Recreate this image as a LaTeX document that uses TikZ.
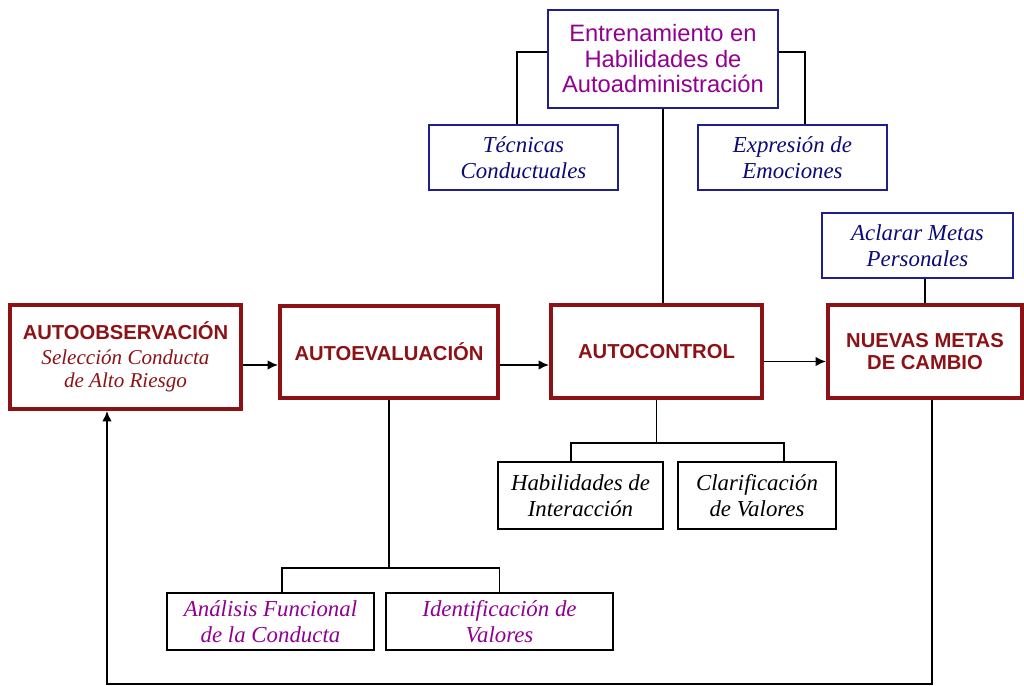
\documentclass[tikz,border=0pt]{standalone}
\usepackage{fontspec}
\setmainfont{Liberation Serif}
\setsansfont{Liberation Sans}
\usetikzlibrary{arrows.meta}
\definecolor{stagered}{RGB}{140,18,22}
\definecolor{boxnavy}{RGB}{30,30,140}
\definecolor{textnavy}{RGB}{10,10,120}
\definecolor{skillpurple}{RGB}{145,0,145}
\begin{document}
\begin{tikzpicture}[
    every node/.style={align=center, inner sep=0pt},
    stage box/.style={draw=stagered, line width=2.2pt, text=stagered, font=\sffamily\bfseries\fontsize{11.5}{13}\selectfont},
    skill box/.style={draw=boxnavy, line width=0.9pt, text=textnavy, font=\itshape\fontsize{13}{14.5}\selectfont},
    plain box/.style={draw=black, line width=0.9pt, font=\itshape\fontsize{13}{14.5}\selectfont},
    link line/.style={draw, line width=1pt},
    flow arrow/.style={draw, line width=1pt, -{Latex[length=6pt,width=5.5pt]}},
    ]
\useasboundingbox (0,0) rectangle (20.48,-13.72);
% main stages
\node[stage box, minimum width=4.62cm, minimum height=2.08cm] (obs) at (2.51,-7.14)
    {AUTOOBSERVACIÓN\\[1pt]\rmfamily\mdseries\itshape\fontsize{12}{14}\selectfont Selección Conducta\\\rmfamily\mdseries\itshape\fontsize{12}{14}\selectfont de Alto Riesgo};
\node[stage box, minimum width=4.36cm, minimum height=1.84cm] (eval) at (7.78,-7.04) {AUTOEVALUACIÓN};
\node[stage box, minimum width=4.22cm, minimum height=1.86cm] (ctrl) at (13.13,-7.03) {AUTOCONTROL};
\node[stage box, minimum width=3.88cm, minimum height=1.86cm] (nue) at (18.50,-7.03) {NUEVAS METAS\\DE CAMBIO};
% skills around autocontrol
\node[skill box, minimum width=4.60cm, minimum height=1.96cm, text=skillpurple,
    font=\sffamily\fontsize{13.5}{14.5}\selectfont] (ent) at (13.26,-1.18)
    {Entrenamiento en\\Habilidades de\\Autoadministración};
\node[skill box, minimum width=3.78cm, minimum height=1.30cm] (tec) at (10.47,-3.15) {Técnicas\\Conductuales};
\node[skill box, minimum width=3.78cm, minimum height=1.30cm] (exp) at (15.85,-3.15) {Expresión de\\Emociones};
\node[skill box, minimum width=3.82cm, minimum height=1.30cm] (acl) at (18.35,-4.91) {Aclarar Metas\\Personales};
\node[plain box, minimum width=3.30cm, minimum height=1.34cm] (hab) at (11.61,-9.91) {Habilidades de\\Interacción};
\node[plain box, minimum width=3.16cm, minimum height=1.34cm] (cla) at (15.14,-9.91) {Clarificación\\de Valores};
\node[plain box, minimum width=4.14cm, minimum height=1.14cm, text=skillpurple] (ana) at (5.41,-12.43) {Análisis Funcional\\de la Conducta};
\node[plain box, minimum width=4.54cm, minimum height=1.14cm, text=skillpurple] (ide) at (9.99,-12.43) {Identificación de\\Valores};
% helper coordinates
\coordinate (row) at (0,-7.30);
\coordinate (ctrlbus) at (0,-8.86);
\coordinate (evalbus) at (0,-11.36);
\coordinate (loop) at (0,-13.68);
% stage flow
\draw[flow arrow] (obs.east |- row) -- (eval.west |- row);
\draw[flow arrow] (eval.east |- row) -- (ctrl.west |- row);
\draw[flow arrow] ([yshift=-0.2cm]ctrl.east) -- ([yshift=-0.2cm]nue.west);
\draw[flow arrow] ([xshift=1.4mm]nue.south) -- ([xshift=1.4mm]nue.south |- loop) -| ([xshift=-3.7mm]obs.south);
% branches
\draw[link line] ([yshift=1.4mm]ent.west) -| ([xshift=-1.3mm]tec.north);
\draw[link line] ([yshift=1.4mm]ent.east) -| ([xshift=2.5mm]exp.north);
\draw[link line] (ent.south) -- (ent.south |- ctrl.north);
\draw[link line] (nue.north |- acl.south) -- (nue.north);
\draw[link line] (ctrl.south) -- (ctrl.south |- ctrlbus);
\draw[link line] ([xshift=-1.9mm]hab.north) |- (ctrlbus -| ctrl.south) -| ([xshift=5.4mm]cla.north);
\draw[link line] (eval.south) -- (eval.south |- evalbus);
\draw[link line] ([xshift=2.3mm]ana.north) |- (evalbus -| eval.south) -| (ide.north);
\end{tikzpicture}
\end{document}
